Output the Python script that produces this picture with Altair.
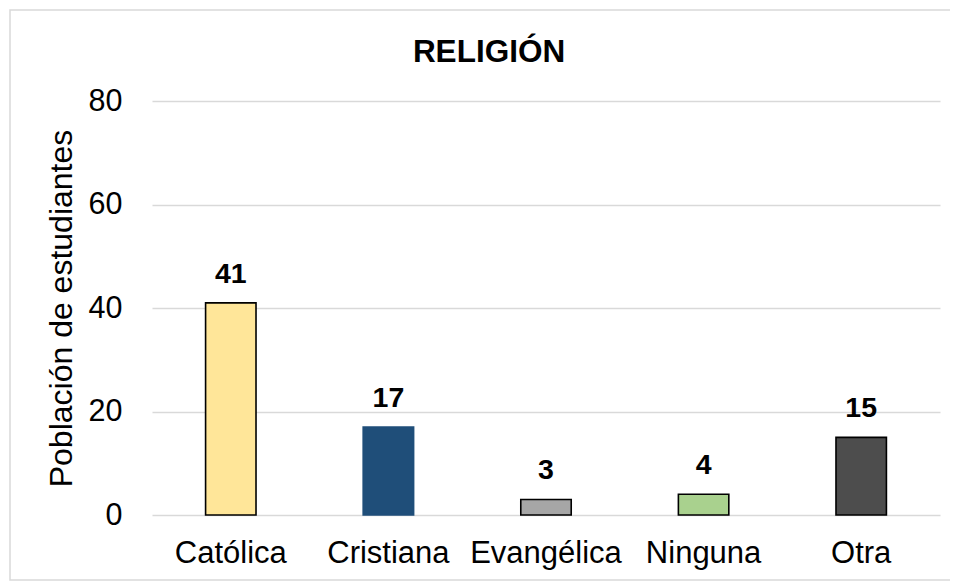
import altair as alt
import pandas as pd

categories = ["Católica", "Cristiana", "Evangélica", "Ninguna", "Otra"]
values = [41, 17, 3, 4, 15]
fills = ["#FFE699", "#1F4E79", "#A6A6A6", "#A9D18E", "#4D4D4D"]
strokes = ["#000000", "#1F4E79", "#000000", "#000000", "#000000"]
y_ticks = [0, 20, 40, 60, 80]
chart_title = "RELIGIÓN"
y_title = "Población de estudiantes"

FONT = "Liberation Sans"

df = pd.DataFrame({"Religión": categories, "Estudiantes": values})

x = alt.X(
    "Religión:N",
    sort=categories,
    scale=alt.Scale(paddingInner=0.68, paddingOuter=0.34),
    axis=alt.Axis(
        title=None, labelAngle=0, labelFontSize=31, labelFont=FONT,
        labelColor="black", labelPadding=23, ticks=False, domain=False, grid=False,
    ),
)
y = alt.Y(
    "Estudiantes:Q",
    scale=alt.Scale(domain=[0, 80]),
    axis=alt.Axis(
        values=y_ticks, title=y_title, grid=True, gridColor="#D9D9D9", gridWidth=1.3,
        ticks=False, domain=False, labelPadding=30, labelFontSize=30.5, labelFont=FONT,
        labelColor="black", titleX=-91, titleY=207, titleAngle=270, titleAlign="center",
        titleBaseline="middle", titleFontWeight="normal", titleFontSize=32,
        titleFont=FONT, titleColor="black",
    ),
)

bars = alt.Chart(df).mark_bar(strokeWidth=1.6).encode(
    x=x,
    y=y,
    fill=alt.Fill("Religión:N", scale=alt.Scale(domain=categories, range=fills), legend=None),
    stroke=alt.Stroke("Religión:N", scale=alt.Scale(domain=categories, range=strokes), legend=None),
)

labels = alt.Chart(df).mark_text(
    dy=-20, baseline="alphabetic", align="center", fontSize=28.5, fontWeight="bold",
    font=FONT, color="black",
).encode(x=x, y=y, text="Estudiantes:Q")

border = alt.Chart(pd.DataFrame({"a": [0]})).mark_rect(
    fillOpacity=0, stroke="#D9D9D9", strokeWidth=1.5
).encode(x=alt.value(-142), x2=alt.value(820), y=alt.value(-91), y2=alt.value(479))

title = alt.Chart(pd.DataFrame({"t": [chart_title]})).mark_text(
    fontSize=31.5, fontWeight="bold", baseline="alphabetic", align="center",
    font=FONT, color="black",
).encode(text="t:N", x=alt.value(337), y=alt.value(-39))

chart = alt.layer(border, bars, labels, title).properties(
    width=788,
    height=414,
    autosize=alt.AutoSizeParams(type="none"),
    padding={"left": 144, "top": 93, "right": 10, "bottom": 69},
).configure(font=FONT).configure_view(stroke=None)

chart.save("out.html", embed_options={"renderer": "svg", "actions": False})
